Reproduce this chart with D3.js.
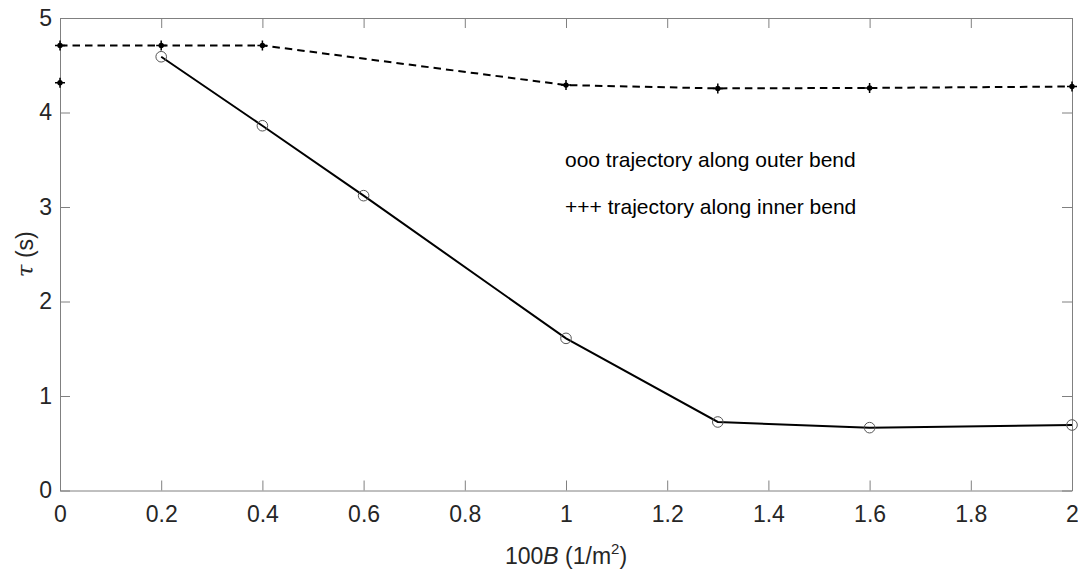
<!DOCTYPE html>
<html>
<head>
<meta charset="utf-8">
<script src="https://cdn.jsdelivr.net/npm/d3@7"></script>
<style>
  html, body { margin: 0; padding: 0; background: #fff; }
  #graph { width: 1078px; height: 571px; }
  .axis path, .axis line { stroke: #808080; stroke-width: 1; }
  .axis text { font-family: "Liberation Sans", Arial, sans-serif; font-size: 23px; fill: #262626; }
  .note { font-family: "Liberation Sans", Arial, sans-serif; font-size: 21px; fill: #000; }
  .label { font-family: "Liberation Sans", Arial, sans-serif; font-size: 23px; fill: #262626; }
</style>
</head>
<body>
<div id="graph"></div>
<script>
// data
var xOuter = [0.2, 0.4, 0.6, 1.0, 1.3, 1.6, 2.0];
var tauOuter = [4.59, 3.86, 3.12, 1.61, 0.725, 0.665, 0.693];

var xInner = [0, 0.2, 0.4, 1.0, 1.3, 1.6, 2.0];
var tauInner = [4.71, 4.71, 4.71, 4.29, 4.255, 4.26, 4.275];

// lone "+" on the y axis
var xExtra = [0];
var tauExtra = [4.315];

var xTicks = [0, 0.2, 0.4, 0.6, 0.8, 1, 1.2, 1.4, 1.6, 1.8, 2];
var yTicks = [0, 1, 2, 3, 4, 5];

var width = 1078, height = 571;
var margin = { top: 18, left: 60, bottom: 80.5, right: 6 };
var chartWidth = width - margin.left - margin.right;
var chartHeight = height - margin.top - margin.bottom;

var svg = d3.select("#graph").append("svg")
  .attr("width", width).attr("height", height);

var chartLayer = svg.append("g")
  .attr("transform", "translate(" + [margin.left, margin.top] + ")");

var xScale = d3.scaleLinear().domain([0, 2]).range([0, chartWidth]);
var yScale = d3.scaleLinear().domain([0, 5]).range([chartHeight, 0]);

var fmt = function(d) { return String(d); };

// axes (ticks point inward, MATLAB-like box)
chartLayer.append("g").attr("class", "axis x")
  .attr("transform", "translate(0," + chartHeight + ")")
  .call(d3.axisBottom(xScale).tickValues(xTicks).tickFormat(fmt)
    .tickSizeInner(-10).tickSizeOuter(0).tickPadding(15));

chartLayer.append("g").attr("class", "axis x top")
  .call(d3.axisTop(xScale).tickValues(xTicks).tickFormat("")
    .tickSizeInner(-10).tickSizeOuter(0));

chartLayer.append("g").attr("class", "axis y")
  .call(d3.axisLeft(yScale).tickValues(yTicks).tickFormat(fmt)
    .tickSizeInner(-10).tickSizeOuter(0).tickPadding(8));

chartLayer.append("g").attr("class", "axis y right")
  .attr("transform", "translate(" + chartWidth + ",0)")
  .call(d3.axisRight(yScale).tickValues(yTicks).tickFormat("")
    .tickSizeInner(-10).tickSizeOuter(0));

chartLayer.selectAll(".axis text").attr("fill", "#262626");

var line = d3.line()
  .x(function(d) { return xScale(d[0]); })
  .y(function(d) { return yScale(d[1]); });

var outer = d3.zip(xOuter, tauOuter);
var inner = d3.zip(xInner, tauInner);
var extra = d3.zip(xExtra, tauExtra);

// inner bend: dashed
chartLayer.append("path")
  .datum(inner)
  .attr("fill", "none")
  .attr("stroke", "#000")
  .attr("stroke-width", 2)
  .attr("stroke-dasharray", "7.5,5")
  .attr("d", line);

// outer bend: solid
chartLayer.append("path")
  .datum(outer)
  .attr("fill", "none")
  .attr("stroke", "#000")
  .attr("stroke-width", 2)
  .attr("d", line);

chartLayer.selectAll(".circ")
  .data(outer)
  .enter().append("circle")
  .attr("class", "circ")
  .attr("cx", function(d) { return xScale(d[0]); })
  .attr("cy", function(d) { return yScale(d[1]); })
  .attr("r", 5.3)
  .attr("fill", "none")
  .attr("stroke", "#555")
  .attr("stroke-width", 1);

var plus = chartLayer.selectAll(".plus")
  .data(inner.concat(extra))
  .enter().append("g")
  .attr("class", "plus")
  .attr("transform", function(d) {
    return "translate(" + [xScale(d[0]), yScale(d[1])] + ")";
  });
plus.append("path")
  .attr("d", "M-5,0H5M0,-5V5")
  .attr("stroke", "#000")
  .attr("stroke-width", 1.5);
plus.append("circle")
  .attr("r", 2.7)
  .attr("fill", "#000");

// annotation texts
chartLayer.append("text").attr("class", "note")
  .attr("x", xScale(1) - 1).attr("y", yScale(3.4) - 2)
  .text("ooo trajectory along outer bend");
chartLayer.append("text").attr("class", "note")
  .attr("x", xScale(1) - 1).attr("y", yScale(2.9) - 2)
  .text("+++ trajectory along inner bend");

// axis titles
var xl = svg.append("text").attr("class", "label")
  .attr("x", margin.left + chartWidth / 2)
  .attr("y", 564)
  .attr("text-anchor", "middle");
xl.append("tspan").text("100");
xl.append("tspan").attr("font-style", "italic").text("B");
xl.append("tspan").text(" (1/m");
xl.append("tspan").attr("font-size", "15px").attr("dy", -10).text("2");
xl.append("tspan").attr("dy", 10).text(")");

var yl = svg.append("text").attr("class", "label")
  .attr("transform", "translate(33," + (margin.top + chartHeight / 2) + ") rotate(-90)")
  .attr("text-anchor", "middle");
yl.append("tspan").attr("font-style", "italic").attr("font-family", "'DejaVu Serif', serif").text("τ");
yl.append("tspan").text(" (s)");
</script>
</body>
</html>
